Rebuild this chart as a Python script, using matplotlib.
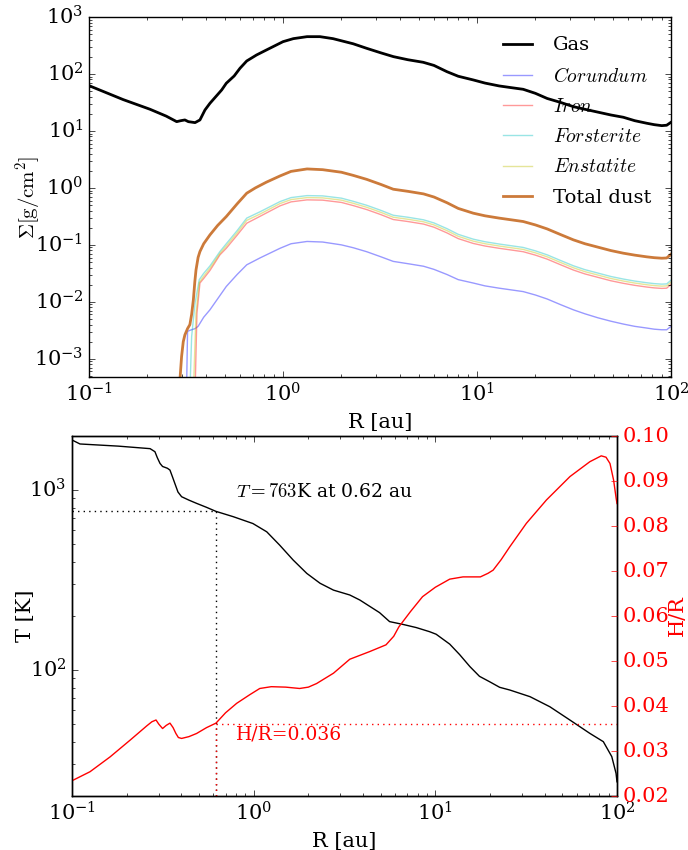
import numpy as np
import matplotlib
matplotlib.use("Agg")
import matplotlib.pyplot as plt

plt.style.use("classic")
plt.rcParams["font.family"] = "serif"
plt.rcParams["mathtext.fontset"] = "cm"
plt.rcParams["figure.facecolor"] = "white"

# --- surface densities, log10(Sigma / g cm^-2) ---
r_gas = [0.1, 0.15, 0.206, 0.25, 0.283, 0.297, 0.312, 0.325, 0.352, 0.373, 0.396, 0.42,
         0.483, 0.51, 0.56, 0.6, 0.65, 0.73, 0.82, 1.0, 1.13, 1.33, 1.55, 1.81, 2.3, 2.7,
         3.2, 3.71, 4.4, 5.28, 6.0, 7.0, 8.0, 9.57, 11.0, 13.0, 15.0, 17.3, 20.0, 23.0, 27.0,
         31.4, 36.0, 42.0, 49.0, 56.8, 65.0, 75.0, 82.0, 89.6, 95.0, 100.0]
lg_gas = [1.795, 1.55, 1.381, 1.26, 1.163, 1.18, 1.193, 1.163, 1.146, 1.193, 1.368, 1.485,
          1.72, 1.837, 1.965, 2.1, 2.228, 2.333, 2.42, 2.567, 2.62, 2.655, 2.655, 2.62, 2.53,
          2.45, 2.37, 2.304, 2.25, 2.205, 2.15, 2.04, 1.96, 1.895, 1.84, 1.79, 1.76, 1.731,
          1.66, 1.57, 1.50, 1.426, 1.38, 1.33, 1.28, 1.24, 1.18, 1.135, 1.11, 1.093, 1.10,
          1.152]

# dust species share one radial grid outside ~1 au
r_out = [0.965, 1.1, 1.33, 1.6, 2.0, 2.3, 2.7, 3.2, 3.7, 4.4, 5.3, 6.0, 7.0, 8.0, 9.57,
         11.0, 13.0, 15.0, 17.3, 20.0, 23.0, 27.0, 31.4, 36.0, 42.0, 49.0, 56.8, 65.0, 75.0,
         82.0, 89.6, 95.0, 100.0]

r_tot_in = [0.290, 0.295, 0.300, 0.306, 0.312, 0.322, 0.331, 0.338, 0.345, 0.351, 0.356,
            0.365, 0.373, 0.39, 0.42, 0.46, 0.51, 0.58, 0.65, 0.72, 0.82]
lg_tot_in = [-3.6, -3.31, -2.96, -2.70, -2.58, -2.47, -2.40, -2.22, -1.965, -1.65, -1.44,
             -1.22, -1.117, -0.98, -0.825, -0.66, -0.503, -0.28, -0.093, 0.0, 0.10]
lg_tot_out = [0.21, 0.29, 0.333, 0.32, 0.275, 0.22, 0.15, 0.06, -0.023, -0.06, -0.105, -0.16,
              -0.26, -0.36, -0.444, -0.49, -0.53, -0.56, -0.59, -0.65, -0.72, -0.82, -0.912,
              -0.98, -1.04, -1.10, -1.146, -1.18, -1.21, -1.225, -1.234, -1.23, -1.164]

r_cor_in = [0.318, 0.322, 0.331, 0.352, 0.365, 0.39, 0.42, 0.51, 0.58, 0.65, 0.76]
lg_cor_in = [-3.6, -2.52, -2.50, -2.47, -2.43, -2.27, -2.14, -1.73, -1.52, -1.35, -1.23]
lg_cor_out = [-1.06, -0.98, -0.94, -0.95, -1.0, -1.05, -1.12, -1.21, -1.29, -1.33, -1.375,
              -1.43, -1.52, -1.61, -1.67, -1.72, -1.76, -1.79, -1.82, -1.88, -1.95, -2.05,
              -2.14, -2.21, -2.28, -2.34, -2.39, -2.43, -2.46, -2.48, -2.49, -2.49, -2.43]

r_fo_in = [0.331, 0.338, 0.352, 0.37, 0.39, 0.42, 0.473, 0.51, 0.58, 0.65, 0.76]
lg_fo_in = [-3.6, -2.61, -2.02, -1.61, -1.50, -1.37, -1.117, -0.98, -0.75, -0.53, -0.42]
lg_fo_out = [-0.24, -0.17, -0.135, -0.14, -0.18, -0.235, -0.305, -0.395, -0.48, -0.515, -0.56,
             -0.615, -0.715, -0.815, -0.90, -0.945, -0.985, -1.015, -1.045, -1.105, -1.175,
             -1.275, -1.367, -1.435, -1.495, -1.555, -1.60, -1.635, -1.665, -1.68, -1.689,
             -1.685, -1.62]

r_en_in = [0.345, 0.356, 0.37, 0.39, 0.42, 0.473, 0.51, 0.58, 0.65, 0.76]
lg_en_in = [-3.6, -2.2, -1.66, -1.55, -1.41, -1.15, -1.02, -0.79, -0.57, -0.46]
lg_en_out = [-0.275, -0.205, -0.17, -0.175, -0.215, -0.27, -0.34, -0.43, -0.515, -0.55,
             -0.595, -0.65, -0.75, -0.85, -0.935, -0.98, -1.02, -1.05, -1.08, -1.14, -1.21,
             -1.31, -1.402, -1.47, -1.53, -1.59, -1.635, -1.67, -1.70, -1.715, -1.724, -1.72,
             -1.655]

r_fe_in = [0.352, 0.36, 0.373, 0.39, 0.42, 0.473, 0.51, 0.58, 0.65, 0.76]
lg_fe_in = [-3.6, -2.2, -1.67, -1.59, -1.45, -1.175, -1.06, -0.83, -0.62, -0.50]
lg_fe_out = [-0.315, -0.245, -0.21, -0.215, -0.255, -0.31, -0.38, -0.47, -0.555, -0.59,
             -0.635, -0.69, -0.79, -0.89, -0.975, -1.02, -1.06, -1.09, -1.12, -1.18, -1.25,
             -1.35, -1.442, -1.51, -1.57, -1.63, -1.675, -1.71, -1.74, -1.755, -1.764, -1.76,
             -1.695]

# --- midplane temperature [K] and aspect ratio ---
r_T = [0.1, 0.1106, 0.18, 0.269, 0.286, 0.295, 0.305, 0.315, 0.325, 0.335, 0.346, 0.357,
       0.368, 0.383, 0.401, 0.44, 0.485, 0.55, 0.62, 0.772, 0.99, 1.18, 1.39, 1.65, 1.96,
       2.32, 2.75, 3.38, 3.84, 4.93, 5.6, 6.6, 7.85, 9.3, 10.1, 12.0, 13.6, 15.5, 17.5,
       19.9, 22.6, 25.7, 33.2, 42.7, 55.1, 70.9, 84.1, 93.6, 98.8, 100.0]
lg_T = [3.279, 3.257, 3.245, 3.231, 3.214, 3.18, 3.149, 3.132, 3.127, 3.122, 3.112, 3.075,
        3.038, 2.99, 2.964, 2.945, 2.927, 2.905, 2.8825, 2.853, 2.815, 2.769, 2.695, 2.612,
        2.538, 2.483, 2.445, 2.418, 2.39, 2.32, 2.27, 2.255, 2.237, 2.214, 2.2, 2.145, 2.087,
        2.02, 1.966, 1.936, 1.905, 1.89, 1.853, 1.797, 1.723, 1.649, 1.603, 1.52, 1.427,
        1.38]

r_h = [0.1, 0.1256, 0.162, 0.2085, 0.258, 0.275, 0.29, 0.30, 0.315, 0.33, 0.346, 0.36,
       0.373, 0.385, 0.401, 0.44, 0.485, 0.55, 0.62, 0.7, 0.806, 0.95, 1.08, 1.25, 1.5, 1.79,
       2.0, 2.22, 2.75, 3.38, 4.35, 5.35, 5.9, 6.3, 7.3, 8.5, 10.0, 12.0, 14.2, 17.7, 19.5,
       20.8, 23.0, 25.7, 31.7, 40.9, 55.1, 70.9, 81.9, 87.0, 91.5, 95.8, 98.9, 100.0]
h_r = [0.0234, 0.0254, 0.0287, 0.0324, 0.0356, 0.0365, 0.0369, 0.0360, 0.0350, 0.0357,
       0.0362, 0.0352, 0.0339, 0.0330, 0.0328, 0.0332, 0.0339, 0.0352, 0.0362, 0.0385,
       0.0406, 0.0425, 0.0439, 0.0443, 0.0442, 0.0439, 0.0442, 0.0450, 0.0473, 0.0504,
       0.0521, 0.0536, 0.0555, 0.0576, 0.0610, 0.0643, 0.0664, 0.0682, 0.0687, 0.0687,
       0.0695, 0.0702, 0.0725, 0.0754, 0.0806, 0.0858, 0.0910, 0.0943, 0.0956, 0.0953,
       0.0939, 0.0902, 0.0862, 0.0850]

r_mark = 0.62
T_mark = 763
h_mark = 0.036


def sig(lg):
    return 10**np.array(lg)


fig = plt.figure(figsize=(6.88, 8.5), dpi=100)

# ---------------- surface density panel ----------------
ax1 = fig.add_axes([0.1294, 0.5565, 0.8459, 0.4235])
ax1.plot(r_gas, sig(lg_gas), color="k", lw=2, label="Gas")
ax1.plot(r_cor_in + r_out, sig(lg_cor_in + lg_cor_out), color="b", alpha=0.4, lw=1,
         label=r"$Corundum$")
ax1.plot(r_fe_in + r_out, sig(lg_fe_in + lg_fe_out), color="r", alpha=0.4, lw=1,
         label=r"$Iron$")
ax1.plot(r_fo_in + r_out, sig(lg_fo_in + lg_fo_out), color="c", alpha=0.4, lw=1,
         label=r"$Forsterite$")
ax1.plot(r_en_in + r_out, sig(lg_en_in + lg_en_out), color="y", alpha=0.4, lw=1,
         label=r"$Enstatite$")
ax1.plot(r_tot_in + r_out, sig(lg_tot_in + lg_tot_out), color="#cc7a3a", lw=2,
         label="Total dust")
ax1.set_xscale("log")
ax1.set_yscale("log")
ax1.set_xlim(0.1, 100)
ax1.set_ylim(4.8e-4, 1e3)
ax1.set_xlabel("R [au]", fontsize=15)
ax1.set_ylabel(r"$\Sigma [\mathrm{g/cm^2}]$", fontsize=15, labelpad=-6)
ax1.tick_params(labelsize=15)
ax1.legend(loc="upper right", frameon=False, fontsize=14, numpoints=1,
           handlelength=1.5, handletextpad=1.1, labelspacing=0.63, borderaxespad=0.6)

# ---------------- temperature / aspect ratio panel ----------------
ax2 = fig.add_axes([0.1047, 0.0635, 0.7921, 0.4235])
ax2.plot(r_T, 10**np.array(lg_T), color="k", lw=1)
ax2.set_xscale("log")
ax2.set_yscale("log")
ax2.set_xlim(0.1, 100)
ax2.set_ylim(20, 2000)
ax2.set_xlabel("R [au]", fontsize=15)
ax2.set_ylabel("T [K]", fontsize=15, labelpad=-4)
ax2.tick_params(labelsize=15)
ax2.plot([0.1, r_mark], [T_mark, T_mark], color="k", ls=":", lw=1)
ax2.plot([r_mark, r_mark], [20, T_mark], color="k", ls=":", lw=1)
ax2.text(0.80, 977, r"$T=%d$K at %.2f au" % (T_mark, r_mark), fontsize=13.5, va="center")

ax3 = ax2.twinx()
ax3.plot(r_h, h_r, color="r", lw=1)
ax3.plot([r_mark, 100], [h_mark, h_mark], color="r", ls=":", lw=1)
ax3.plot([r_mark, r_mark], [0.02, h_mark], color="r", ls=":", lw=1)
ax3.set_xlim(0.1, 100)
ax3.set_ylim(0.02, 0.10)
ax3.set_ylabel("H/R", color="r", fontsize=15, labelpad=-1)
ax3.tick_params(axis="y", colors="r", labelsize=15)
ax3.text(0.80, 0.0336, "H/R=%.3f" % h_mark, color="r", fontsize=13.5, va="center")

fig.savefig("out.png", dpi=100)
